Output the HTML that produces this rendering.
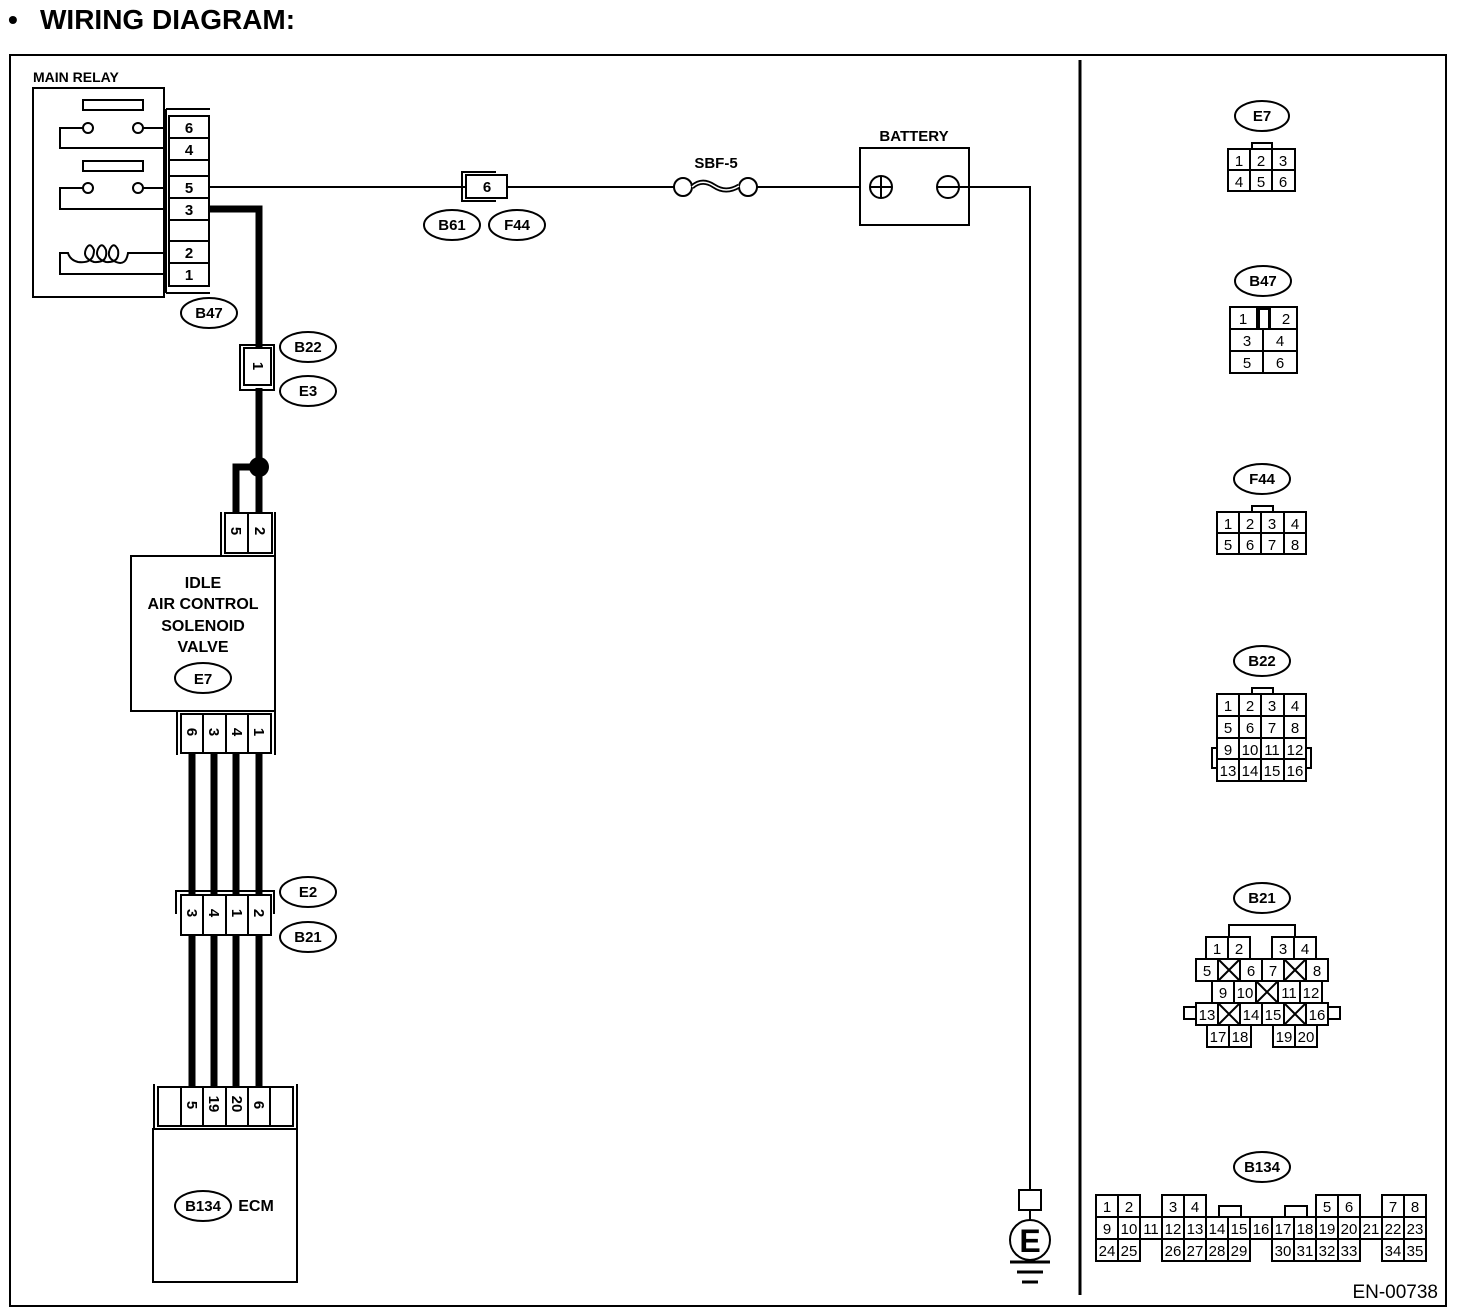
<!DOCTYPE html>
<html><head><meta charset="utf-8"><style>
html,body{margin:0;padding:0;background:#fff;}
svg{display:block;}
text{font-family:"Liberation Sans",Arial,sans-serif;font-weight:bold;fill:#000;}
.c{fill:#fff;stroke:#000;stroke-width:2;}
.n{fill:none;stroke:#000;stroke-width:2;}
.w{fill:none;stroke:#000;stroke-width:2;}
.tw{fill:none;stroke:#000;stroke-width:7;}
.e{fill:#fff;stroke:#000;stroke-width:2;}
.s{font-size:15px;text-anchor:middle;}
.r{font-size:15px;font-weight:normal;text-anchor:middle;}
</style></head><body>
<svg width="1472" height="1316" viewBox="0 0 1472 1316" xmlns="http://www.w3.org/2000/svg">
<text x="8" y="29" style="font-size:28px">•</text>
<text x="40" y="29" style="font-size:28px">WIRING DIAGRAM:</text>
<rect x="10" y="55" width="1436" height="1251" class="n"/>
<line x1="1080" y1="60" x2="1080" y2="1295" stroke="#000" stroke-width="3"/>

<!-- MAIN RELAY -->
<text x="33" y="82" style="font-size:14px">MAIN RELAY</text>
<rect x="33" y="88" width="131" height="209" class="n"/>
<rect x="83" y="100" width="60" height="10" class="n"/>
<rect x="83" y="161" width="60" height="10" class="n"/>
<path d="M83 128 H60 V148 H166 M143 128 H166" class="w"/>
<circle cx="88" cy="128" r="5" class="c"/><circle cx="138" cy="128" r="5" class="c"/>
<path d="M83 188 H60 V209 H166 M143 188 H166" class="w"/>
<circle cx="88" cy="188" r="5" class="c"/><circle cx="138" cy="188" r="5" class="c"/>
<path d="M166 253 H128 Q126 266 116 262 Q106 258 110 249 Q114 241 118 250 Q120 263 106 262 Q94 258 98 249 Q102 241 106 250 Q108 263 94 262 Q82 258 86 249 Q90 241 94 250 Q94 264 78 262 Q70 260 68 253 H60 V274 H166" class="w"/>
<!-- B47 connector -->
<path d="M166 109 H210 M166 293 H210" class="w"/>
<line x1="166" y1="109" x2="166" y2="293" stroke="#000" stroke-width="2"/>
<rect x="169" y="116" width="40" height="170" class="c"/>
<path d="M169 138H209M169 160H209M169 176H209M169 198H209M169 220H209M169 241H209M169 263H209" class="w"/>
<text x="189" y="133" class="s">6</text><text x="189" y="155" class="s">4</text>
<text x="189" y="193" class="s">5</text><text x="189" y="215" class="s">3</text>
<text x="189" y="258" class="s">2</text><text x="189" y="280" class="s">1</text>
<ellipse cx="209" cy="313" rx="28" ry="15" class="e"/><text x="209" y="318" class="s">B47</text>

<!-- wire 5 to battery -->
<line x1="209" y1="187" x2="465" y2="187" stroke="#000" stroke-width="2"/>
<path d="M496 172 H462 V201 H496" class="w"/>
<rect x="466" y="175" width="41" height="23" class="c"/>
<text x="487" y="192" class="s">6</text>
<line x1="507" y1="187" x2="675" y2="187" stroke="#000" stroke-width="2"/>
<ellipse cx="452" cy="225" rx="28" ry="15" class="e"/><text x="452" y="230" class="s">B61</text>
<ellipse cx="517" cy="225" rx="28" ry="15" class="e"/><text x="517" y="230" class="s">F44</text>
<text x="716" y="168" class="s">SBF-5</text>
<circle cx="683" cy="187" r="9" class="c"/><circle cx="748" cy="187" r="9" class="c"/>
<path d="M692 187 Q702 178 714 186 Q726 194 739 186" fill="none" stroke="#000" stroke-width="5"/>
<path d="M692 187 Q702 178 714 186 Q726 194 739 186" fill="none" stroke="#fff" stroke-width="1.5"/>
<line x1="757" y1="187" x2="860" y2="187" stroke="#000" stroke-width="2"/>
<text x="914" y="141" class="s" style="font-size:15px">BATTERY</text>
<rect x="860" y="148" width="109" height="77" class="n"/>
<circle cx="881" cy="187" r="11" class="c"/><path d="M870 187H892M881 176V198" class="w"/>
<circle cx="948" cy="187" r="11" class="c"/><path d="M937 187H1030V1190" class="w"/>
<!-- ground -->
<rect x="1019" y="1190" width="22" height="20" class="n"/>
<line x1="1030" y1="1210" x2="1030" y2="1220" stroke="#000" stroke-width="2"/>
<circle cx="1030" cy="1240" r="20" class="c"/>
<text x="1030" y="1252" class="s" style="font-size:32px">E</text>
<path d="M1010 1262H1050M1017 1272H1043M1022 1282H1038" stroke="#000" stroke-width="3"/>

<!-- thick wire from 3 -->
<path d="M209 209 H259 V347" class="tw"/>
<path d="M240 345 H274 V390 H240 Z" class="n"/>
<rect x="244" y="348" width="27" height="37" class="c"/>
<text transform="translate(253,366) rotate(90)" class="s">1</text>
<ellipse cx="308" cy="347" rx="28" ry="15" class="e"/><text x="308" y="352" class="s">B22</text>
<ellipse cx="308" cy="391" rx="28" ry="15" class="e"/><text x="308" y="396" class="s">E3</text>
<path d="M259 388 V515" class="tw"/>
<path d="M259 467 H236 V515" class="tw"/>
<circle cx="259" cy="467" r="10" fill="#000"/>
<!-- E7 top connector -->
<path d="M221 556 V512 M275 556 V512" class="w"/>
<rect x="225" y="513" width="47" height="40" class="c"/>
<line x1="248" y1="513" x2="248" y2="553" stroke="#000" stroke-width="2"/>
<text transform="translate(231,531) rotate(90)" class="s">5</text>
<text transform="translate(255,531) rotate(90)" class="s">2</text>
<!-- IACV -->
<rect x="131" y="556" width="144" height="155" class="n"/>
<text x="203" y="588" class="s" style="font-size:16px">IDLE</text>
<text x="203" y="609" class="s" style="font-size:16px">AIR CONTROL</text>
<text x="203" y="631" class="s" style="font-size:16px">SOLENOID</text>
<text x="203" y="652" class="s" style="font-size:16px">VALVE</text>
<ellipse cx="203" cy="678" rx="28" ry="15" class="e"/><text x="203" y="684" class="s">E7</text>
<!-- E7 bottom connector -->
<path d="M177 711 V755 M275 711 V755" class="w"/>
<rect x="181" y="714" width="90" height="39" class="c"/>
<path d="M203 714V753M226 714V753M248 714V753" class="w"/>
<text transform="translate(187,732) rotate(90)" class="s">6</text>
<text transform="translate(209,732) rotate(90)" class="s">3</text>
<text transform="translate(232,732) rotate(90)" class="s">4</text>
<text transform="translate(254,732) rotate(90)" class="s">1</text>
<path d="M192 753V897M214 753V897M236 753V897M259 753V897" class="tw"/>
<!-- E2/B21 connector -->
<path d="M176 914 V891 H274 V914" class="w"/>
<rect x="181" y="895" width="90" height="40" class="c"/>
<path d="M203 895V935M226 895V935M248 895V935" class="w"/>
<text transform="translate(187,913) rotate(90)" class="s">3</text>
<text transform="translate(209,913) rotate(90)" class="s">4</text>
<text transform="translate(232,913) rotate(90)" class="s">1</text>
<text transform="translate(254,913) rotate(90)" class="s">2</text>
<ellipse cx="308" cy="892" rx="28" ry="15" class="e"/><text x="308" y="897" class="s">E2</text>
<ellipse cx="308" cy="937" rx="28" ry="15" class="e"/><text x="308" y="942" class="s">B21</text>
<path d="M192 935V1087M214 935V1087M236 935V1087M259 935V1087" class="tw"/>
<!-- ECM -->
<path d="M154 1084 V1130 M297 1084 V1130" class="w"/>
<rect x="158" y="1087" width="135" height="39" class="c"/>
<path d="M181 1087V1126M203 1087V1126M226 1087V1126M248 1087V1126M270 1087V1126" class="w"/>
<text transform="translate(187,1105) rotate(90)" class="s">5</text>
<text transform="translate(209,1104) rotate(90)" class="s">19</text>
<text transform="translate(232,1104) rotate(90)" class="s">20</text>
<text transform="translate(254,1105) rotate(90)" class="s">6</text>
<rect x="153" y="1129" width="144" height="153" class="n"/>
<ellipse cx="203" cy="1206" rx="28" ry="15" class="e"/><text x="203" y="1211" class="s">B134</text>
<text x="256" y="1211" class="s" style="font-size:16px">ECM</text>

<!-- right side connectors -->
<ellipse cx="1262" cy="116" rx="27" ry="15" class="e"/><text x="1262" y="121" class="s">E7</text>
<rect x="1252" y="143" width="20" height="7" class="c"/>
<rect x="1228" y="149" width="67" height="42" class="c"/>
<path d="M1250 149V191M1272 149V191M1228 170H1295" class="w"/>
<text x="1239" y="166" class="r">1</text><text x="1261" y="166" class="r">2</text><text x="1283" y="166" class="r">3</text>
<text x="1239" y="187" class="r">4</text><text x="1261" y="187" class="r">5</text><text x="1283" y="187" class="r">6</text>
<!-- B47 -->
<ellipse cx="1263" cy="281" rx="28" ry="15" class="e"/><text x="1263" y="286" class="s">B47</text>
<rect x="1230" y="307" width="67" height="66" class="c"/>
<path d="M1230 329H1297M1230 351H1297M1263 329V373M1257 307V329M1270 307V329" class="w"/>
<rect x="1259" y="309" width="10" height="20" class="c"/>
<text x="1243" y="324" class="r">1</text><text x="1286" y="324" class="r">2</text>
<text x="1247" y="346" class="r">3</text><text x="1280" y="346" class="r">4</text>
<text x="1247" y="368" class="r">5</text><text x="1280" y="368" class="r">6</text>
<!-- F44 -->
<ellipse cx="1262" cy="479" rx="28" ry="15" class="e"/><text x="1262" y="484" class="s">F44</text>
<rect x="1252" y="506" width="21" height="7" class="c"/>
<rect x="1217" y="512" width="89" height="42" class="c"/>
<path d="M1239 512V554M1261 512V554M1284 512V554M1217 533H1306" class="w"/>
<text x="1228" y="529" class="r">1</text><text x="1250" y="529" class="r">2</text><text x="1272" y="529" class="r">3</text><text x="1295" y="529" class="r">4</text>
<text x="1228" y="550" class="r">5</text><text x="1250" y="550" class="r">6</text><text x="1272" y="550" class="r">7</text><text x="1295" y="550" class="r">8</text>
<!-- B22 -->
<ellipse cx="1262" cy="661" rx="28" ry="15" class="e"/><text x="1262" y="666" class="s">B22</text>
<rect x="1252" y="688" width="21" height="7" class="c"/>
<rect x="1212" y="748" width="7" height="20" class="c"/><rect x="1304" y="748" width="7" height="20" class="c"/>
<rect x="1217" y="694" width="89" height="87" class="c"/>
<path d="M1239 694V781M1261 694V781M1284 694V781M1217 716H1306M1217 738H1306M1217 759H1306" class="w"/>
<text x="1228" y="711" class="r">1</text><text x="1250" y="711" class="r">2</text><text x="1272" y="711" class="r">3</text><text x="1295" y="711" class="r">4</text>
<text x="1228" y="733" class="r">5</text><text x="1250" y="733" class="r">6</text><text x="1272" y="733" class="r">7</text><text x="1295" y="733" class="r">8</text>
<text x="1228" y="755" class="r">9</text><text x="1250" y="755" class="r">10</text><text x="1272" y="755" class="r">11</text><text x="1295" y="755" class="r">12</text>
<text x="1228" y="776" class="r">13</text><text x="1250" y="776" class="r">14</text><text x="1272" y="776" class="r">15</text><text x="1295" y="776" class="r">16</text>
<!-- B21 -->
<ellipse cx="1262" cy="898" rx="28" ry="15" class="e"/><text x="1262" y="903" class="s">B21</text>
<path d="M1229 937V925H1295V937" class="w"/>
<g class="c">
<rect x="1206" y="937" width="22" height="22"/><rect x="1228" y="937" width="22" height="22"/>
<rect x="1272" y="937" width="22" height="22"/><rect x="1294" y="937" width="22" height="22"/>
<rect x="1196" y="959" width="22" height="22"/><rect x="1218" y="959" width="22" height="22"/><rect x="1240" y="959" width="22" height="22"/>
<rect x="1262" y="959" width="22" height="22"/><rect x="1284" y="959" width="22" height="22"/><rect x="1306" y="959" width="22" height="22"/>
<rect x="1212" y="981" width="22" height="22"/><rect x="1234" y="981" width="22" height="22"/><rect x="1256" y="981" width="22" height="22"/>
<rect x="1278" y="981" width="22" height="22"/><rect x="1300" y="981" width="22" height="22"/>
<rect x="1184" y="1007" width="12" height="12"/><rect x="1328" y="1007" width="12" height="12"/>
<rect x="1196" y="1003" width="22" height="22"/><rect x="1218" y="1003" width="22" height="22"/><rect x="1240" y="1003" width="22" height="22"/>
<rect x="1262" y="1003" width="22" height="22"/><rect x="1284" y="1003" width="22" height="22"/><rect x="1306" y="1003" width="22" height="22"/>
<rect x="1207" y="1025" width="22" height="22"/><rect x="1229" y="1025" width="22" height="22"/>
<rect x="1273" y="1025" width="22" height="22"/><rect x="1295" y="1025" width="22" height="22"/>
</g>
<path d="M1218 959L1240 981M1240 959L1218 981M1284 959L1306 981M1306 959L1284 981M1256 981L1278 1003M1278 981L1256 1003M1218 1003L1240 1025M1240 1003L1218 1025M1284 1003L1306 1025M1306 1003L1284 1025" class="w" stroke-width="1.5"/>
<text x="1217" y="954" class="r">1</text><text x="1239" y="954" class="r">2</text><text x="1283" y="954" class="r">3</text><text x="1305" y="954" class="r">4</text>
<text x="1207" y="976" class="r">5</text><text x="1251" y="976" class="r">6</text><text x="1273" y="976" class="r">7</text><text x="1317" y="976" class="r">8</text>
<text x="1223" y="998" class="r">9</text><text x="1245" y="998" class="r">10</text><text x="1289" y="998" class="r">11</text><text x="1311" y="998" class="r">12</text>
<text x="1207" y="1020" class="r">13</text><text x="1251" y="1020" class="r">14</text><text x="1273" y="1020" class="r">15</text><text x="1317" y="1020" class="r">16</text>
<text x="1218" y="1042" class="r">17</text><text x="1240" y="1042" class="r">18</text><text x="1284" y="1042" class="r">19</text><text x="1306" y="1042" class="r">20</text>
<!-- B134 -->
<ellipse cx="1262" cy="1167" rx="28" ry="15" class="e"/><text x="1262" y="1172" class="s">B134</text>
<g class="c">
<rect x="1219" y="1206" width="22" height="11"/><rect x="1285" y="1206" width="22" height="11"/>
<rect x="1096" y="1195" width="22" height="22"/><rect x="1118" y="1195" width="22" height="22"/>
<rect x="1162" y="1195" width="22" height="22"/><rect x="1184" y="1195" width="22" height="22"/>
<rect x="1316" y="1195" width="22" height="22"/><rect x="1338" y="1195" width="22" height="22"/>
<rect x="1382" y="1195" width="22" height="22"/><rect x="1404" y="1195" width="22" height="22"/>
<rect x="1096" y="1217" width="330" height="22"/>
<rect x="1096" y="1239" width="44" height="22"/>
<rect x="1162" y="1239" width="88" height="22"/>
<rect x="1272" y="1239" width="88" height="22"/>
<rect x="1382" y="1239" width="44" height="22"/>
</g>
<path d="M1118 1217V1261M1140 1217V1239M1162 1217V1239M1184 1217V1261M1206 1217V1261M1228 1217V1261M1250 1217V1239M1272 1217V1239M1294 1217V1261M1316 1217V1261M1338 1217V1261M1360 1217V1239M1382 1217V1239M1404 1217V1261" class="w"/>
<text x="1107" y="1212" class="r">1</text><text x="1129" y="1212" class="r">2</text><text x="1173" y="1212" class="r">3</text><text x="1195" y="1212" class="r">4</text>
<text x="1327" y="1212" class="r">5</text><text x="1349" y="1212" class="r">6</text><text x="1393" y="1212" class="r">7</text><text x="1415" y="1212" class="r">8</text>
<text x="1107" y="1234" class="r">9</text><text x="1129" y="1234" class="r">10</text><text x="1151" y="1234" class="r">11</text><text x="1173" y="1234" class="r">12</text><text x="1195" y="1234" class="r">13</text><text x="1217" y="1234" class="r">14</text><text x="1239" y="1234" class="r">15</text><text x="1261" y="1234" class="r">16</text><text x="1283" y="1234" class="r">17</text><text x="1305" y="1234" class="r">18</text><text x="1327" y="1234" class="r">19</text><text x="1349" y="1234" class="r">20</text><text x="1371" y="1234" class="r">21</text><text x="1393" y="1234" class="r">22</text><text x="1415" y="1234" class="r">23</text>
<text x="1107" y="1256" class="r">24</text><text x="1129" y="1256" class="r">25</text><text x="1173" y="1256" class="r">26</text><text x="1195" y="1256" class="r">27</text><text x="1217" y="1256" class="r">28</text><text x="1239" y="1256" class="r">29</text>
<text x="1283" y="1256" class="r">30</text><text x="1305" y="1256" class="r">31</text><text x="1327" y="1256" class="r">32</text><text x="1349" y="1256" class="r">33</text><text x="1393" y="1256" class="r">34</text><text x="1415" y="1256" class="r">35</text>
<text x="1438" y="1298" style="font-size:19px;font-weight:normal;text-anchor:end">EN-00738</text>
</svg>
</body></html>
